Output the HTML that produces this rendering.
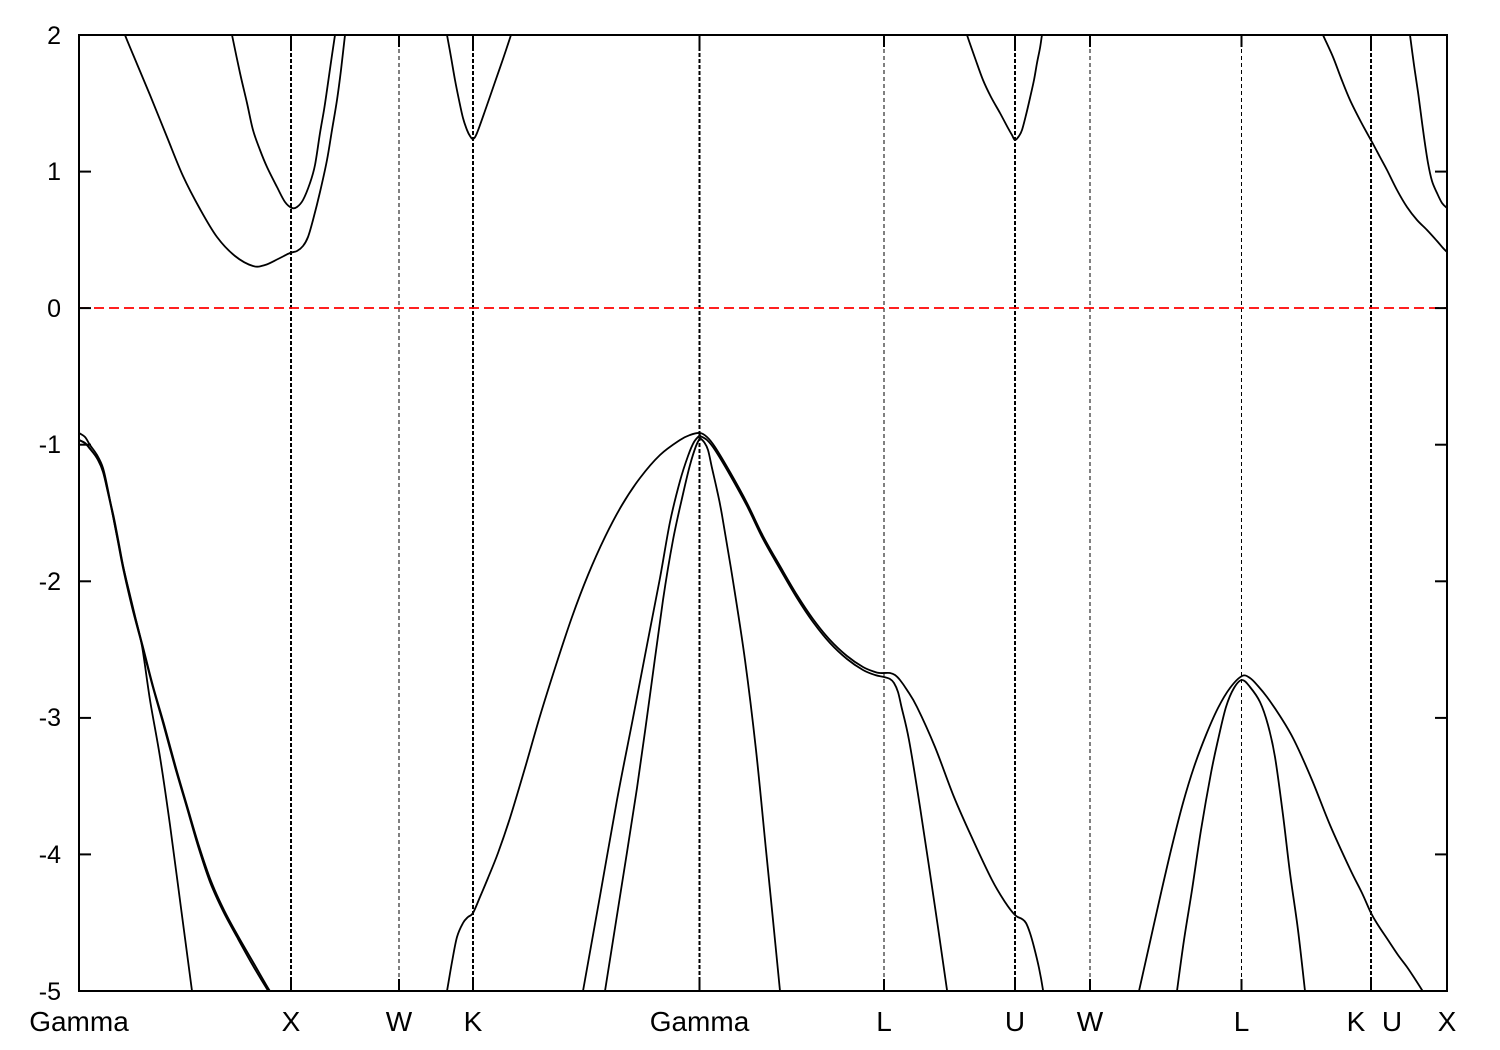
<!DOCTYPE html>
<html>
<head>
<meta charset="utf-8">
<style>
html,body{margin:0;padding:0;background:#fff;}
svg{display:block;}
text{font-family:"Liberation Sans",Arial,sans-serif;fill:#000;}
</style>
</head>
<body>
<svg width="1500" height="1050" viewBox="0 0 1500 1050" xmlns="http://www.w3.org/2000/svg">
<defs>
<clipPath id="pa"><rect x="79" y="35" width="1368" height="956"/></clipPath>
</defs>
<rect x="0" y="0" width="1500" height="1050" fill="#fff"/>

<g stroke="#000" fill="none">
<g stroke-width="2" stroke-dasharray="4,2">
<line x1="291" y1="35" x2="291" y2="991"/>
<line x1="473" y1="35" x2="473" y2="991"/>
<line x1="699.5" y1="35" x2="699.5" y2="991"/>
<line x1="1015" y1="35" x2="1015" y2="991"/>
<line x1="1371" y1="35" x2="1371" y2="991"/>
</g>
<g stroke-width="1" stroke-dasharray="4,3">
<line x1="399" y1="35" x2="399" y2="991"/>
<line x1="884" y1="35" x2="884" y2="991"/>
<line x1="1090" y1="35" x2="1090" y2="991"/>
<line x1="1241.5" y1="35" x2="1241.5" y2="991"/>
</g>
</g>

<line x1="79" y1="308" x2="1447" y2="308" stroke="#f00" stroke-width="1.8" stroke-dasharray="10,5"/>

<g id="bands" clip-path="url(#pa)" fill="none" stroke="#000" stroke-width="1.8" stroke-linejoin="round" stroke-linecap="round">
<polyline points="122,25 125,35 137,64 150,95 167,137 183,176 200,209 217,237 235,256 253,266 265,265 278,259 290,253 297,251 303,246 308,237 313,220 320,192 327,160 332,130 337,100 341,70 345,35 347,22"/>
<polyline points="230,25 232,35 240,73 247,103 253,130 260,150 267,167 277,187 285,202 292,208 297,207 303,200 310,183 315,165 320,133 324,110 327,90 331,62 335,35 337,22"/>
<polyline points="445,25 447,35 451,57 455,80 459,100 463,118 467,130 470,136 473,139 477,133 486,108 495,82 503,59 511,35 514,25"/>
<polyline points="964,25 967,35 975,58 983,80 991,97 1000,113 1008,128 1012,135 1015,140 1019,136 1022,130 1026,115 1030,98 1034,80 1037,63 1040,48 1042,35 1044,25"/>
<polyline points="1319,25 1323,35 1333,57 1341,78 1350,100 1361,122 1372,142 1380,157 1387,170 1397,190 1407,207 1417,220 1427,230 1437,241 1443,248 1447,252"/>
<polyline points="1409,25 1410,35 1414,65 1418,92 1420,107 1424,137 1428,163 1432,181 1437,193 1442,203 1447,208"/>

<polyline points="79,433 85,437 90,445 97,455 103,468 108,490 113,516 118,542 123,568 132,607 142,645 152,684 163,723 175,767 187,808 198,846 210,882 223,911 237,937 252,964 267,989 272,996"/>
<polyline points="79,440 85,443 90,449 97,458 103,471 108,492 114,518 119,544 124,570 133,609 143,647 153,686 164,724 176,768 188,809 199,846 211,881 224,910 238,936 253,962 268,988 273,995"/>
<polyline points="79,440 86,444 92,451 98,460 103,472 108,493 113,516 118,541 123,566 129,591 135,616 142,646 150,700 160,757 170,825 181,908 192,991 193,1000"/>

<polyline points="445,1000 447,991 452,962 457,937 463,923 468,917 473,913 480,897 488,878 498,853 510,818 525,768 540,716 556,665 572,617 588,575 605,537 622,505 640,478 660,455 680,440 690,435 700,433 707,437 715,447 730,472 747,503 763,536 780,566 797,595 813,619 830,640 847,656 863,667 875,672 880,673 884,673 890,673 895,675 900,680 907,690 917,707 935,747 954,797 973,840 992,880 1005,902 1015,915 1022,919 1026,923 1030,933 1034,947 1039,968 1043,990 1044,1000"/>
<polyline points="700,436 707,440 715,450 730,475 747,506 763,539 780,569 797,598 813,622 830,643 847,659 863,670 875,675 884,677 890,679 894,683 898,692 901.5,707 909,740 920,807 935,907 947,990 948,1000"/>
<polyline points="582,1000 583,991 600,896 617,800 633,718 647,645 660,578 670,522 680,481 688,456 694,442 700,435"/>
<polyline points="604,1000 605,991 621,890 637,788 650,695 663,600 673,540 683,494 690,465 696,446 700,438"/>
<polyline points="700,438 704,442 708,450 712,468 717,490 722,515 733,581 745,660 756,750 766,850 773,920 780,991 781,1000"/>

<polyline points="1137,1000 1139,991 1150,942 1161,893 1172,846 1183,803 1194,767 1206,735 1218,708 1230,688 1242,676 1250,678 1258,686 1267,697 1280,716 1294,740 1312,780 1330,825 1350,869 1362,893 1371,913 1378,925 1388,940 1398,955 1407,967 1415,979 1422,990 1425,995"/>
<polyline points="1176,1000 1177,991 1184,940 1192,890 1201,830 1211,773 1218,740 1226,707 1234,688 1242,680 1250,687 1260,702 1268,725 1275,757 1283,815 1290,873 1298,930 1305,991 1306,1000"/>
</g>

<rect x="79" y="35" width="1368" height="956" fill="none" stroke="#000" stroke-width="2"/>

<g stroke="#000" stroke-width="2">
<line x1="79" y1="171.6" x2="91" y2="171.6"/>
<line x1="79" y1="308.1" x2="91" y2="308.1"/>
<line x1="79" y1="444.7" x2="91" y2="444.7"/>
<line x1="79" y1="581.3" x2="91" y2="581.3"/>
<line x1="79" y1="717.9" x2="91" y2="717.9"/>
<line x1="79" y1="854.4" x2="91" y2="854.4"/>
<line x1="1435" y1="171.6" x2="1447" y2="171.6"/>
<line x1="1435" y1="308.1" x2="1447" y2="308.1"/>
<line x1="1435" y1="444.7" x2="1447" y2="444.7"/>
<line x1="1435" y1="581.3" x2="1447" y2="581.3"/>
<line x1="1435" y1="717.9" x2="1447" y2="717.9"/>
<line x1="1435" y1="854.4" x2="1447" y2="854.4"/>
<line x1="291" y1="991" x2="291" y2="979"/>
<line x1="399" y1="991" x2="399" y2="979"/>
<line x1="473" y1="991" x2="473" y2="979"/>
<line x1="699.5" y1="991" x2="699.5" y2="979"/>
<line x1="884" y1="991" x2="884" y2="979"/>
<line x1="1015" y1="991" x2="1015" y2="979"/>
<line x1="1090" y1="991" x2="1090" y2="979"/>
<line x1="1241.5" y1="991" x2="1241.5" y2="979"/>
<line x1="1371" y1="991" x2="1371" y2="979"/>
<line x1="291" y1="35" x2="291" y2="47"/>
<line x1="399" y1="35" x2="399" y2="47"/>
<line x1="473" y1="35" x2="473" y2="47"/>
<line x1="699.5" y1="35" x2="699.5" y2="47"/>
<line x1="884" y1="35" x2="884" y2="47"/>
<line x1="1015" y1="35" x2="1015" y2="47"/>
<line x1="1090" y1="35" x2="1090" y2="47"/>
<line x1="1241.5" y1="35" x2="1241.5" y2="47"/>
<line x1="1371" y1="35" x2="1371" y2="47"/>
</g>

<g font-size="25" text-anchor="end">
<text x="61" y="44">2</text>
<text x="61" y="180">1</text>
<text x="61" y="317">0</text>
<text x="61" y="453">-1</text>
<text x="61" y="590">-2</text>
<text x="61" y="726">-3</text>
<text x="61" y="863">-4</text>
<text x="61" y="1000">-5</text>
</g>

<g font-size="28" text-anchor="middle">
<text x="79" y="1031">Gamma</text>
<text x="291" y="1031">X</text>
<text x="399" y="1031">W</text>
<text x="473" y="1031">K</text>
<text x="699.5" y="1031">Gamma</text>
<text x="884" y="1031">L</text>
<text x="1015" y="1031">U</text>
<text x="1090" y="1031">W</text>
<text x="1241.5" y="1031">L</text>
<text x="1356" y="1031">K</text>
<text x="1392" y="1031">U</text>
<text x="1447" y="1031">X</text>
</g>
</svg>
<script>
(function(){
  var NS="http://www.w3.org/2000/svg";
  var pls=document.querySelectorAll("#bands polyline");
  for(var i=0;i<pls.length;i++){
    var pl=pls[i];
    var raw=pl.getAttribute("points").trim().split(/\s+/);
    var p=[];
    for(var j=0;j<raw.length;j++){var c=raw[j].split(",");p.push([+c[0],+c[1]]);}
    if(p.length<3)continue;
    var d="M"+p[0][0]+","+p[0][1];
    for(var k=0;k<p.length-1;k++){
      var p0=p[k>0?k-1:k],p1=p[k],p2=p[k+1],p3=p[k+2<p.length?k+2:k+1];
      var c1x=p1[0]+(p2[0]-p0[0])/6,c1y=p1[1]+(p2[1]-p0[1])/6;
      var c2x=p2[0]-(p3[0]-p1[0])/6,c2y=p2[1]-(p3[1]-p1[1])/6;
      d+=" C"+c1x.toFixed(2)+","+c1y.toFixed(2)+" "+c2x.toFixed(2)+","+c2y.toFixed(2)+" "+p2[0]+","+p2[1];
    }
    var path=document.createElementNS(NS,"path");
    path.setAttribute("d",d);
    pl.parentNode.replaceChild(path,pl);
  }
})();
</script>
</body>
</html>
